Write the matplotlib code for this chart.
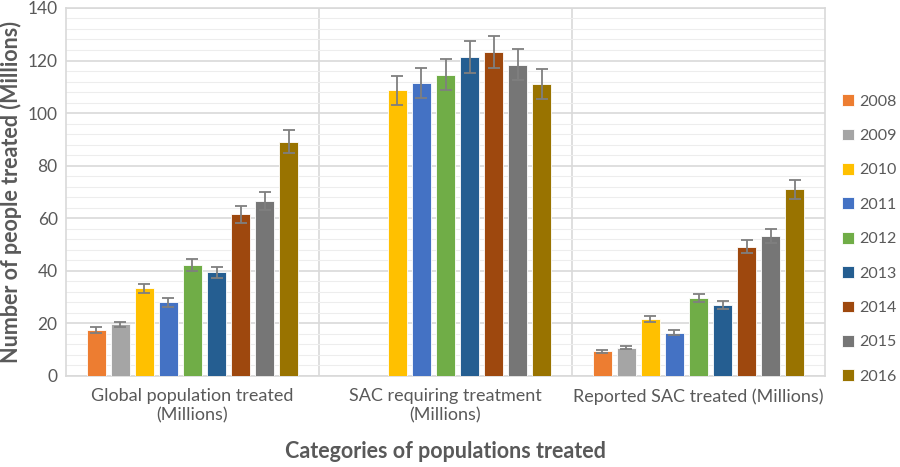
import matplotlib
matplotlib.use("Agg")
import matplotlib.pyplot as plt
import numpy as np
from matplotlib.ticker import MultipleLocator

categories = ["Global population treated\n(Millions)", "SAC requiring treatment\n(Millions)", "Reported SAC treated (Millions)"]
years = ["2008", "2009", "2010", "2011", "2012", "2013", "2014", "2015", "2016"]
values = {
    "2008": [17.5, 0, 9.4],
    "2009": [19.6, 0, 10.8],
    "2010": [33.3, 108.7, 21.7],
    "2011": [28.0, 111.5, 16.5],
    "2012": [42.1, 114.6, 29.7],
    "2013": [39.4, 121.2, 26.9],
    "2014": [61.5, 123.2, 49.2],
    "2015": [66.5, 118.4, 53.1],
    "2016": [89.1, 111.0, 71.0],
}
errors = {
    "2008": [1.0, 0, 0.6],
    "2009": [1.0, 0, 0.6],
    "2010": [1.8, 5.5, 1.2],
    "2011": [1.6, 5.6, 1.0],
    "2012": [2.2, 5.8, 1.6],
    "2013": [2.1, 6.1, 1.5],
    "2014": [3.2, 6.2, 2.5],
    "2015": [3.4, 6.0, 2.7],
    "2016": [4.4, 5.6, 3.6],
}
colors = ["#ED7D31", "#A5A5A5", "#FFC000", "#4472C4", "#70AD47",
          "#255E91", "#9E480E", "#767676", "#997300"]

plt.rcParams['font.family'] = ['Lato', 'DejaVu Sans']
fig = plt.figure(figsize=(9, 4.67), dpi=100)
ax = fig.add_axes([0.0733, 0.195, 0.8434, 0.788])

step = 0.095
width = 0.076
x = np.arange(len(categories))
for i, y in enumerate(years):
    vals = np.array(values[y])
    errs = np.array(errors[y])
    pos = x + (i - 4) * step
    mask = vals > 0
    ax.bar(pos[mask], vals[mask], width, color=colors[i], edgecolor="white",
           linewidth=0.6, label=y, zorder=3)
    ax.errorbar(pos[mask], vals[mask], yerr=errs[mask], fmt="none",
                ecolor="#7F7F7F", elinewidth=1.3, capsize=4, capthick=1.3, zorder=4)

ax.set_xlim(-0.5, 2.5)
ax.set_ylim(0, 140)
ax.yaxis.set_major_locator(MultipleLocator(20))
ax.yaxis.set_minor_locator(MultipleLocator(4))
ax.grid(which="major", axis="y", color="#D9D9D9", linewidth=1.2, zorder=0)
ax.grid(which="minor", axis="y", color="#EDEDED", linewidth=0.8, zorder=0)
for xv in [0.5, 1.5]:
    ax.axvline(xv, color="#D9D9D9", linewidth=1.2, zorder=1)
for s in ax.spines.values():
    s.set_color("#D9D9D9")
    s.set_linewidth(1.2)
ax.set_xticks(x)
ax.set_xticklabels(categories, fontsize=13, color="#595959", linespacing=1.25)
ax.tick_params(axis="both", which="both", length=0, colors="#595959")
ax.tick_params(axis="y", labelsize=12.5, pad=6)
ax.tick_params(axis="x", pad=9)
ax.set_ylabel("Number of people treated (Millions)", fontsize=15.5, fontweight="bold", color="#595959", labelpad=4)
ax.set_xlabel("Categories of populations treated", fontsize=15.5, fontweight="bold", color="#595959", labelpad=12)

leg = ax.legend(loc="center left", bbox_to_anchor=(1.022, 0.372), frameon=False,
                borderaxespad=0, borderpad=0,
                fontsize=11.5, labelspacing=1.25, handlelength=0.75, handleheight=0.75,
                handletextpad=0.35, labelcolor="#595959")

fig.savefig("out.png", dpi=100)
